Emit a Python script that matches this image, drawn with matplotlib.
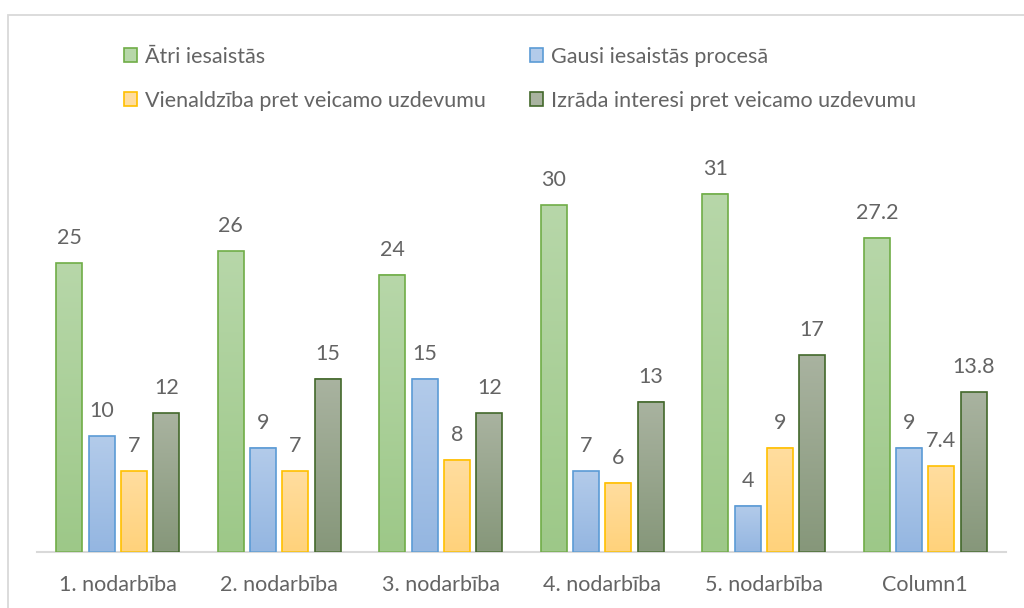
import matplotlib
matplotlib.use("Agg")
import matplotlib.pyplot as plt
import numpy as np
from matplotlib.patches import Rectangle, Patch
from matplotlib.colors import to_rgb

categories = ["1. nodarbība", "2. nodarbība", "3. nodarbība", "4. nodarbība", "5. nodarbība", "Column1"]
series_names = ["Ātri iesaistās", "Gausi iesaistās procesā",
                "Vienaldzība pret veicamo uzdevumu", "Izrāda interesi pret veicamo uzdevumu"]
atri = [25, 26, 24, 30, 31, 27.2]
gausi = [10, 9, 15, 7, 4, 9]
vienaldziba = [7, 7, 8, 6, 9, 7.4]
izrada = [12, 15, 12, 13, 17, 13.8]
value_labels = [["25", "26", "24", "30", "31", "27.2"],
                ["10", "9", "15", "7", "4", "9"],
                ["7", "7", "8", "6", "9", "7.4"],
                ["12", "15", "12", "13", "17", "13.8"]]
series = [atri, gausi, vienaldziba, izrada]

edge_colors = ["#70ad47", "#5b9bd5", "#ffc000", "#43682b"]
top_colors = ["#b7d7a9", "#b3cbea", "#ffdd9f", "#a9b3a0"]
bot_colors = ["#9dc888", "#94b6e1", "#ffd27b", "#86977a"]

FONT = "Lato"
TXT = "#646464"
FS = 15.5

W, H = 1024, 608
fig = plt.figure(figsize=(W / 100, H / 100), dpi=100)
fig.patch.set_facecolor("white")

# outer chart border
fig.patches.append(Rectangle((8 / W, -0.1), 2.0, (H - 15) / H + 0.1, transform=fig.transFigure,
                             facecolor="none", edgecolor="#d9d9d9", lw=1.3, zorder=0))

ymax = 35
px_per_unit = 11.56
ax_left, ax_right = 37, 1006
ax_bottom = 552
ax_h = ymax * px_per_unit
ax = fig.add_axes([ax_left / W, (H - ax_bottom) / H, (ax_right - ax_left) / W, ax_h / H])
ax.set_xlim(-0.5, len(categories) - 0.5)
ax.set_ylim(0, ymax)

bw = 0.16
step = 0.2
x = np.arange(len(categories))
n = 256
grad = np.linspace(0, 1, n)[:, None]

for i, vals in enumerate(series):
    offs = (i - 1.5) * step
    t = np.array(to_rgb(top_colors[i]))
    b = np.array(to_rgb(bot_colors[i]))
    img = (b[None, None, :] * (1 - grad[:, :, None]) + t[None, None, :] * grad[:, :, None])
    bars = ax.bar(x + offs, vals, width=bw, facecolor="none", edgecolor=edge_colors[i],
                  linewidth=1.2, zorder=3)
    for j, rect in enumerate(bars):
        x0 = rect.get_x()
        h = rect.get_height()
        ax.imshow(img, extent=(x0, x0 + bw, 0, h), origin="lower", aspect="auto",
                  interpolation="bilinear", zorder=2)
        ax.annotate(value_labels[i][j], (x0 + bw / 2, h), xytext=(0, 18), textcoords="offset points",
                    ha="center", va="center", fontsize=FS, color=TXT, family=FONT)

ax.set_xlim(-0.5, len(categories) - 0.5)
ax.set_ylim(0, ymax)
ax.set_aspect("auto")

for s in ["top", "right", "left"]:
    ax.spines[s].set_visible(False)
ax.spines["bottom"].set_color("#d9d9d9")
ax.spines["bottom"].set_linewidth(1.5)
ax.set_yticks([])
ax.set_xticks(x)
ax.set_xticklabels(categories, fontsize=FS, color=TXT, family=FONT)
ax.tick_params(axis="x", length=0, pad=16.5)
ax.patch.set_visible(False)

handles = [Patch(facecolor=top_colors[k], edgecolor=edge_colors[k], linewidth=1.2) for k in range(4)]
order = [0, 2, 1, 3]
leg = fig.legend([handles[k] for k in order], [series_names[k] for k in order], ncol=2,
                 loc="upper left", bbox_to_anchor=(124 / W, 1 - 47 / H), frameon=False,
                 prop={"family": FONT, "size": FS}, labelcolor=TXT,
                 handlelength=0.62, handleheight=0.62, handletextpad=0.35,
                 labelspacing=1.1, columnspacing=2.05, borderpad=0, borderaxespad=0)

fig.savefig("out.png", dpi=100, facecolor="white")
